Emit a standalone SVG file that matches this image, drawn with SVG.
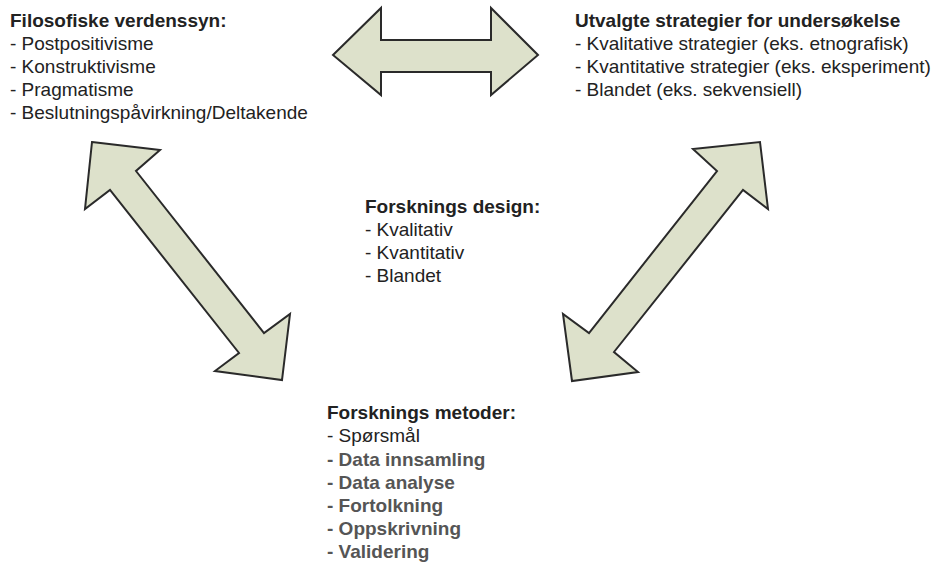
<svg xmlns="http://www.w3.org/2000/svg" width="941" height="562" viewBox="0 0 941 562">
<style>
text{font-family:"Liberation Sans",Arial,sans-serif;font-size:19px;fill:#222}
.t{font-weight:bold}
.g{font-weight:bold;fill:#555}
.arrow{fill:#dde1cb;stroke:#2a2a2a;stroke-width:2;stroke-linejoin:miter}
</style>
<rect width="941" height="562" fill="#fff"/>
<g id="connectors">
<polygon class="arrow" points="333,55 381,8 381,40 491,40 491,8 538,55 491,95 491,72 381,72 381,95"/>
<polygon class="arrow" points="92,142 160,150 136,171 264,333 290,314 282,380 215,371 239,353 110,190 85,209"/>
<polygon class="arrow" points="760,142 768,209 743,190 614,352 638,372 572,381 563,314 589,333 717,171 693,149"/>
</g>
<g id="worldviews">
<text x="10" y="27" class="t">Filosofiske verdenssyn:</text>
<text x="10" y="50">- Postpositivisme</text>
<text x="10" y="73">- Konstruktivisme</text>
<text x="10" y="96">- Pragmatisme</text>
<text x="10" y="119">- Beslutningspåvirkning/Deltakende</text>
</g>
<g id="strategies">
<text x="575" y="27" class="t">Utvalgte strategier for undersøkelse</text>
<text x="575" y="50">- Kvalitative strategier (eks. etnografisk)</text>
<text x="575" y="73">- Kvantitative strategier (eks. eksperiment)</text>
<text x="575" y="96">- Blandet (eks. sekvensiell)</text>
</g>
<g id="design">
<text x="365" y="213" class="t">Forsknings design:</text>
<text x="365" y="236">- Kvalitativ</text>
<text x="365" y="259">- Kvantitativ</text>
<text x="365" y="282">- Blandet</text>
</g>
<g id="methods">
<text x="327" y="419" class="t">Forsknings metoder:</text>
<text x="327" y="442">- Spørsmål</text>
<text x="327" y="466" class="g">- Data innsamling</text>
<text x="327" y="489" class="g">- Data analyse</text>
<text x="327" y="512" class="g">- Fortolkning</text>
<text x="327" y="535" class="g">- Oppskrivning</text>
<text x="327" y="558" class="g">- Validering</text>
</g>
</svg>
